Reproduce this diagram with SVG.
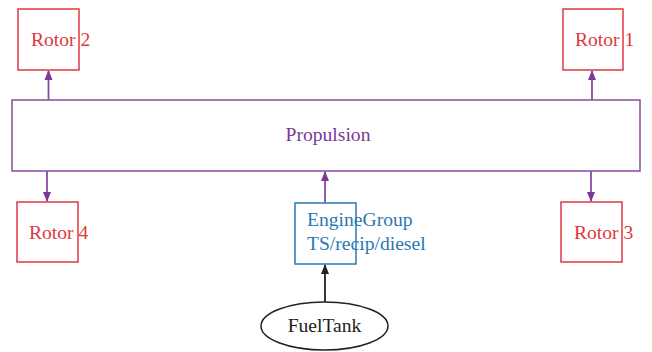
<svg xmlns="http://www.w3.org/2000/svg" width="652" height="352" viewBox="0 0 652 352">
<defs>
<style>
text{font-family:"Liberation Serif","Times New Roman",serif;font-size:19.6px}
.rotor rect{fill:#fff;stroke:#e0383c;stroke-width:1.5}
.rotor text{fill:#e0383c}
.prop rect{fill:#fff;stroke:#8a4aa0;stroke-width:1.5}
.prop text{fill:#7a3a96}
.eng rect{fill:#fff;stroke:#2a78b4;stroke-width:1.5}
.eng text{fill:#2a78b4}
.tank ellipse{fill:#fff;stroke:#222;stroke-width:1.5}
.tank text{fill:#222}
.pe{stroke:#8a4aa0;stroke-width:1.8;fill:none}
.ke{stroke:#222;stroke-width:1.8;fill:none}
</style>
<marker id="ap" markerWidth="10" markerHeight="10" refX="9" refY="5" orient="auto" markerUnits="userSpaceOnUse">
<path d="M0,1 L10,5 L0,9 z" fill="#7a3a96"/>
</marker>
<marker id="ak" markerWidth="10" markerHeight="10" refX="9" refY="5" orient="auto" markerUnits="userSpaceOnUse">
<path d="M0,1 L10,5 L0,9 z" fill="#222"/>
</marker>
</defs>
<g id="connectors">
<line class="pe" x1="48.5" y1="100" x2="48.5" y2="71" marker-end="url(#ap)"/>
<line class="pe" x1="592" y1="100" x2="592" y2="71" marker-end="url(#ap)"/>
<line class="pe" x1="47" y1="171" x2="47" y2="201" marker-end="url(#ap)"/>
<line class="pe" x1="591" y1="171" x2="591" y2="201" marker-end="url(#ap)"/>
<line class="pe" x1="325" y1="203" x2="325" y2="172" marker-end="url(#ap)"/>
<line class="ke" x1="325" y1="302" x2="325" y2="265" marker-end="url(#ak)"/>
</g>
<g id="rotor2" class="rotor"><rect x="18" y="9" width="61" height="61"/><text x="31" y="46">Rotor 2</text></g>
<g id="rotor1" class="rotor"><rect x="563" y="9" width="60" height="61"/><text x="575" y="46">Rotor 1</text></g>
<g id="rotor4" class="rotor"><rect x="17" y="202" width="61" height="60"/><text x="29" y="239">Rotor 4</text></g>
<g id="rotor3" class="rotor"><rect x="561" y="202" width="61" height="60"/><text x="574" y="239">Rotor 3</text></g>
<g id="propulsion" class="prop"><rect x="12" y="100" width="628" height="71"/><text x="328" y="141" text-anchor="middle">Propulsion</text></g>
<g id="engine" class="eng"><rect x="295" y="203" width="61" height="61"/><text x="307" y="226">EngineGroup</text><text x="307" y="250">TS/recip/diesel</text></g>
<g id="fueltank" class="tank"><ellipse cx="324.5" cy="326" rx="63.5" ry="24"/><text x="324.5" y="332" text-anchor="middle">FuelTank</text></g>
</svg>
